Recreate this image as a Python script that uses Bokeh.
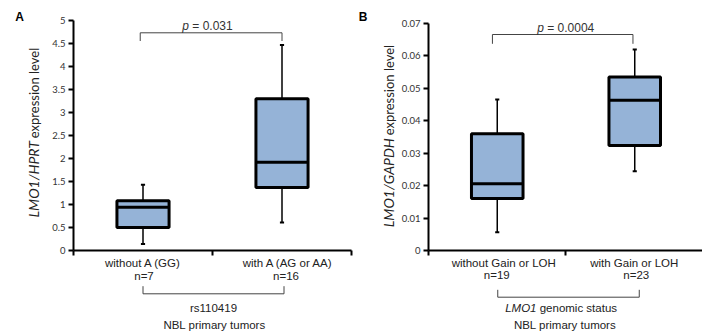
import math
from bokeh.plotting import figure
from bokeh.models import Range1d, FixedTicker, Label, ColumnDataSource
from bokeh.layouts import row, column
from bokeh.embed import file_html
from bokeh.resources import INLINE

# ---------------- data ----------------
a_categories = ["without A (GG)", "with A (AG or AA)"]
a_counts = ["n=7", "n=16"]
a_lower = [0.14, 0.61]
a_q1 = [0.50, 1.37]
a_median = [0.94, 1.92]
a_q3 = [1.08, 3.30]
a_upper = [1.43, 4.47]
a_ticks = [0, 0.5, 1, 1.5, 2, 2.5, 3, 3.5, 4, 4.5, 5]
a_tick_labels = ["0", "0.5", "1", "1.5", "2", "2.5", "3", "3.5", "4", "4.5", "5"]
a_pvalue = "0.031"
a_group_title = "rs110419"

b_categories = ["without Gain or LOH", "with Gain or LOH"]
b_counts = ["n=19", "n=23"]
b_lower = [0.0056, 0.0244]
b_q1 = [0.0160, 0.0324]
b_median = [0.0206, 0.0463]
b_q3 = [0.0360, 0.0535]
b_upper = [0.0466, 0.0620]
b_ticks = [0, 0.01, 0.02, 0.03, 0.04, 0.05, 0.06, 0.07]
b_tick_labels = ["0", "0.01", "0.02", "0.03", "0.04", "0.05", "0.06", "0.07"]
b_pvalue = "0.0004"
b_group_title = "genomic status"

footer = "NBL primary tumors"

BOX_FILL = "#95B3D7"
TXT = "#222222"
TICK_TXT = "#333333"
BRACKET = "#444444"
H = 333          # total height
MAIN_H = 256     # height of the box-plot figures
FRAME_BOTTOM = 250
NB = "\u00a0"


def blank(width, height, xr, yr):
    p = figure(width=width, height=height, x_range=Range1d(*xr), y_range=Range1d(*yr),
               output_backend="svg", toolbar_location=None, x_axis_type=None, y_axis_type=None,
               min_border_left=0, min_border_right=0, min_border_top=0, min_border_bottom=0)
    p.outline_line_color = None
    p.grid.visible = False
    p.background_fill_color = "white"
    p.border_fill_color = "white"
    return p


def lab(p, x, y, text, size="11.5px", font="Liberation Sans", style="normal",
        align="center", angle=0.0, color=TXT):
    p.add_layout(Label(x=x, y=y, text=text, text_font=font, text_font_size=size,
                       text_font_style=style, text_align=align, text_baseline="middle",
                       angle=angle, text_color=color))


def bracket(p, x0, x1, y_line, y_end, color=BRACKET):
    p.multi_line(xs=[[x0, x0, x1, x1]], ys=[[y_end, y_line, y_line, y_end]],
                 line_color=color, line_width=1)


def make_main(width, left, frame_top_px, y_top, x_end, ticks, tick_labels,
              lower, q1, med, q3, upper):
    # frame spans page y 0..FRAME_BOTTOM; the axis itself stops at y_top
    frame_h = FRAME_BOTTOM
    y_end = y_top * frame_h / (FRAME_BOTTOM - frame_top_px)
    p = figure(width=width, height=MAIN_H, x_range=Range1d(0, x_end), y_range=Range1d(0, y_end),
               output_backend="svg", toolbar_location=None,
               min_border_left=left, min_border_right=0, min_border_top=0,
               min_border_bottom=MAIN_H - FRAME_BOTTOM)
    p.outline_line_color = None
    p.xgrid.visible = False
    p.ygrid.visible = False
    p.background_fill_color = "white"
    p.border_fill_color = "white"

    p.yaxis.ticker = FixedTicker(ticks=ticks)
    p.yaxis.bounds = (0, y_top)
    p.yaxis.major_label_overrides = {t: l for t, l in zip(ticks, tick_labels)}
    p.yaxis.minor_tick_line_color = None
    p.yaxis.axis_line_width = 2
    p.yaxis.axis_line_color = "black"
    p.yaxis.major_tick_line_width = 2
    p.yaxis.major_tick_in = 0
    p.yaxis.major_tick_out = 5
    p.yaxis.major_label_standoff = 3
    p.yaxis.major_label_text_font = "Lato"
    p.yaxis.major_label_text_font_size = "9.5px"
    p.yaxis.major_label_text_color = TICK_TXT

    p.xaxis.ticker = FixedTicker(ticks=[0, 1, 2])
    p.xaxis.bounds = (0, 2)
    p.xaxis.major_label_overrides = {0: "", 1: "", 2: ""}
    p.xaxis.major_label_text_font_size = "0px"
    p.xaxis.major_label_standoff = 0
    p.xaxis.minor_tick_line_color = None
    p.xaxis.axis_line_width = 2
    p.xaxis.axis_line_color = "black"
    p.xaxis.major_tick_line_width = 2
    p.xaxis.major_tick_in = 0
    p.xaxis.major_tick_out = 5

    xs = [0.5 + i for i in range(len(med))]
    bw = 0.375
    cap = 0.03
    src = ColumnDataSource(dict(x=xs, lower=lower, q1=q1, med=med, q3=q3, upper=upper,
                                cl=[x - cap / 2 for x in xs], cr=[x + cap / 2 for x in xs],
                                ml=[x - bw / 2 for x in xs], mr=[x + bw / 2 for x in xs]))
    p.segment(x0="x", y0="q3", x1="x", y1="upper", source=src, line_color="black", line_width=1.5)
    p.segment(x0="x", y0="q1", x1="x", y1="lower", source=src, line_color="black", line_width=1.5)
    p.segment(x0="cl", y0="upper", x1="cr", y1="upper", source=src, line_color="black", line_width=2)
    p.segment(x0="cl", y0="lower", x1="cr", y1="lower", source=src, line_color="black", line_width=2)
    p.vbar(x="x", width=bw, top="q3", bottom="q1", source=src, fill_color=BOX_FILL,
           line_color="black", line_width=3)
    p.segment(x0="ml", y0="med", x1="mr", y1="med", source=src, line_color="black", line_width=3)
    return p


YL_IT = "14px"
YL_RG = "13px"

# ================= Panel A (page x 0..355) =================
A_FRAME_LEFT, A_UNIT = 73, 139.0          # px of x=0, px per category
ma = make_main(355 - 48, A_FRAME_LEFT - 48, 20, 5, (355 - A_FRAME_LEFT) / A_UNIT,
               a_ticks, a_tick_labels, a_lower, a_q1, a_median, a_q3, a_upper)
ya = lambda py: (FRAME_BOTTOM - py) * 5 / (FRAME_BOTTOM - 20)
bracket(ma, 0.48, 1.5, ya(32.3), ya(40.5))
lab(ma, 0.5 + (189 - 143) / A_UNIT, ya(25), "p", size="12px", style="italic", align="right", color="#333333")
lab(ma, 0.5 + (189 - 143) / A_UNIT, ya(25), NB + "= " + a_pvalue, size="12px", align="left", color="#333333")

la = blank(48, MAIN_H, (0, 48), (MAIN_H, 0))
lab(la, 19, 17, "A", size="12px", style="bold", color="black")
lab(la, 33, 144, "LMO1/HPRT", size=YL_IT, font="Lato", style="italic", align="right", angle=math.pi / 2)
lab(la, 33, 141, "expression level", size=YL_RG, font="Lato", align="left", angle=math.pi / 2)

ba = blank(355, H - MAIN_H, (0, 355), (H, MAIN_H))
cxa = lambda i: A_FRAME_LEFT + A_UNIT * (i + 0.5)
lab(ba, cxa(0), 262, a_categories[0])
lab(ba, cxa(0) + 1, 275, a_counts[0])
lab(ba, cxa(1) + 6, 262, a_categories[1])
lab(ba, cxa(1) + 4, 275, a_counts[1])
bracket(ba, cxa(0), cxa(1) + 2, 293.3, 285.7)
lab(ba, (cxa(0) + cxa(1)) / 2 + 1, 307, a_group_title)
lab(ba, (cxa(0) + cxa(1)) / 2 + 2, 324, footer)

# ================= Panel B (page x 355..702) =================
B_FRAME_LEFT, B_UNIT = 426, 138.5
LB_W = 43
mb = make_main(702 - 355 - LB_W, B_FRAME_LEFT - 355 - LB_W, 23, 0.07, (702 - B_FRAME_LEFT) / B_UNIT,
               b_ticks, b_tick_labels, b_lower, b_q1, b_median, b_q3, b_upper)
yb = lambda py: (FRAME_BOTTOM - py) * 0.07 / (FRAME_BOTTOM - 23)
bracket(mb, 0.465, 1.487, yb(34), yb(43.3))
lab(mb, 0.5 + (542 - 495) / B_UNIT, yb(27), "p", size="12px", style="italic", align="right", color="#333333")
lab(mb, 0.5 + (542 - 495) / B_UNIT, yb(27), NB + "= " + b_pvalue, size="12px", align="left", color="#333333")

lb = blank(LB_W, MAIN_H, (355, 355 + LB_W), (MAIN_H, 0))
lab(lb, 362.5, 17, "B", size="12px", style="bold", color="black")
lab(lb, 388, 141, "LMO1/GAPDH", size=YL_IT, font="Lato", style="italic", align="right", angle=math.pi / 2)
lab(lb, 388, 138, "expression level", size=YL_RG, font="Lato", align="left", angle=math.pi / 2)

bb = blank(702 - 355, H - MAIN_H, (355, 702), (H, MAIN_H))
cxb = lambda i: B_FRAME_LEFT + B_UNIT * (i + 0.5)
lab(bb, cxb(0) + 8, 262.5, b_categories[0])
lab(bb, cxb(0) + 1, 274.5, b_counts[0])
lab(bb, cxb(1), 262.5, b_categories[1])
lab(bb, cxb(1) + 2, 274.5, b_counts[1])
bracket(bb, cxb(0) + 2, cxb(1) + 5, 296.7, 289.3)
lab(bb, 536, 307, "LMO1", style="italic", align="right")
lab(bb, 536, 307, NB + b_group_title, align="left")
lab(bb, (cxb(0) + cxb(1)) / 2, 324, footer)

layout = row(column(row(la, ma), ba), column(row(lb, mb), bb))
open("out.html", "w").write(file_html(layout, INLINE))
